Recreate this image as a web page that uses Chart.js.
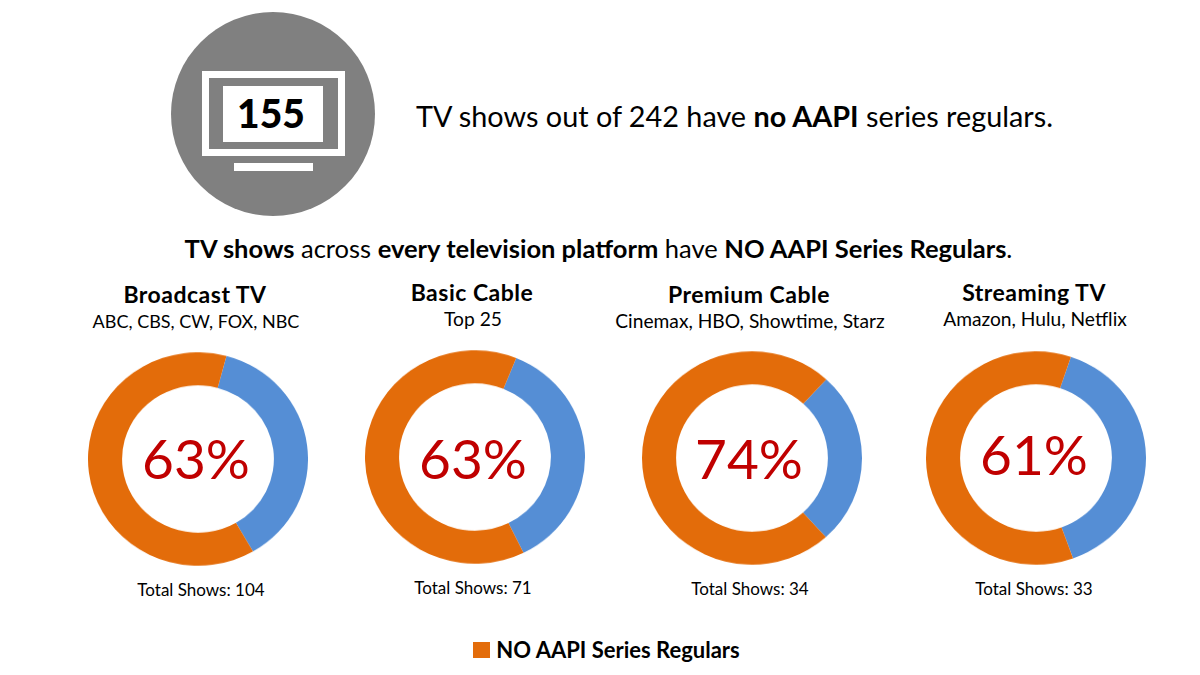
<!DOCTYPE html>
<html>
<head>
<meta charset="utf-8">
<script src="https://cdn.jsdelivr.net/npm/chart.js@4/dist/chart.umd.min.js"></script>
<style>
html, body { margin: 0; background: #fff; }
#page { position: relative; width: 1200px; height: 675px; overflow: hidden; font-family: Lato, sans-serif; color: #000; }
.t { position: absolute; white-space: nowrap; line-height: 1; transform: translate(-50%, -50%); }
.t b { font-weight: 700; }
.chartBox { position: absolute; width: 220px; height: 220px; transform: scaleY(0.97); }
#circle { position: absolute; left: 171px; top: 12px; width: 204px; height: 204px; border-radius: 50%; background: #808080; }
#frame { position: absolute; left: 202px; top: 71px; width: 129px; height: 71px; border: 7px solid #fff; }
#screen { position: absolute; left: 223px; top: 86px; width: 100px; height: 56px; background: #fff; }
#stand { position: absolute; left: 234px; top: 163px; width: 79px; height: 8px; background: #fff; }
#swatch { position: absolute; left: 473px; top: 642px; width: 17px; height: 16px; background: #E36C0A; }
</style>
</head>
<body>
<div id="page">
  <div id="circle"></div>
  <div id="frame"></div>
  <div id="screen"></div>
  <div id="stand"></div>
  <div class="t" style="left:271px;top:113px;font-size:39px;font-weight:900">155</div>
  <div class="t" style="left:734.5px;top:116px;font-size:28.8px">TV shows out of 242 have <b>no AAPI</b> series regulars.</div>
  <div class="t" style="left:598.5px;top:249px;font-size:25.5px"><b>TV shows</b> across <b>every television platform</b> have <b>NO AAPI Series Regulars</b>.</div>
  <div id="swatch"></div>
  <div class="t" style="left:618px;top:649.5px;font-size:22px;font-weight:700">NO AAPI Series Regulars</div>
</div>

<script>
// data
const platforms = ["Broadcast TV", "Basic Cable", "Premium Cable", "Streaming TV"]
const networks = ["ABC, CBS, CW, FOX, NBC", "Top 25", "Cinemax, HBO, Showtime, Starz", "Amazon, Hulu, Netflix"]
const percents = ["63%", "63%", "74%", "61%"]
const noAapi = [65, 45, 25, 20]
const withAapi = [39, 26, 9, 13]
const totals = [104, 71, 34, 33]

// layout
const chartX = [198, 475, 752, 1036]
const chartY = [458.5, 457, 458, 458]
const rotations = [15, 22, 42.5, 18.5]
const titleX = [195, 472, 749, 1034]
const titleY = [294, 292, 294, 292]
const netSize = [18, 19.2, 19.2, 19.2]
const labelX = [196, 473, 749, 1034]
const labelY = [458, 458, 458, 454]
const totalX = [201, 473, 750, 1034]

const page = document.getElementById("page")

function addText(text, x, y, size, weight, color){
  const el = document.createElement("div")
  el.className = "t"
  el.innerText = text
  el.style.left = x + "px"
  el.style.top = y + "px"
  el.style.fontSize = size + "px"
  el.style.fontWeight = weight
  if(color) el.style.color = color
  page.appendChild(el)
  return el
}

platforms.forEach((name, i)=>{

  const box = document.createElement("div")
  box.className = "chartBox"
  box.style.left = (chartX[i] - 110) + "px"
  box.style.top = (chartY[i] - 110) + "px"
  const canvas = document.createElement("canvas")
  canvas.width = 220
  canvas.height = 220
  box.appendChild(canvas)
  page.appendChild(box)

  new Chart(canvas, {
    type: "doughnut",
    data: {
      labels: ["AAPI Series Regulars", "NO AAPI Series Regulars"],
      datasets: [{
        data: [withAapi[i], noAapi[i]],
        backgroundColor: ["#558ED5", "#E36C0A"],
        borderWidth: 0
      }]
    },
    options: {
      responsive: false,
      animation: false,
      cutout: "69%",
      rotation: rotations[i],
      plugins: { legend: { display: false }, tooltip: { enabled: false } }
    }
  })

  addText(name, titleX[i], titleY[i], 23, 700).style.letterSpacing = "0.5px"
  addText(networks[i], titleX[i] + 1, titleY[i] + 27, netSize[i], 400)
  addText(percents[i], labelX[i], labelY[i], 55, 400, "#C00000")
  addText("Total Shows: " + totals[i], totalX[i], chartY[i] + 130, 17, 400)
})
</script>
</body>
</html>
